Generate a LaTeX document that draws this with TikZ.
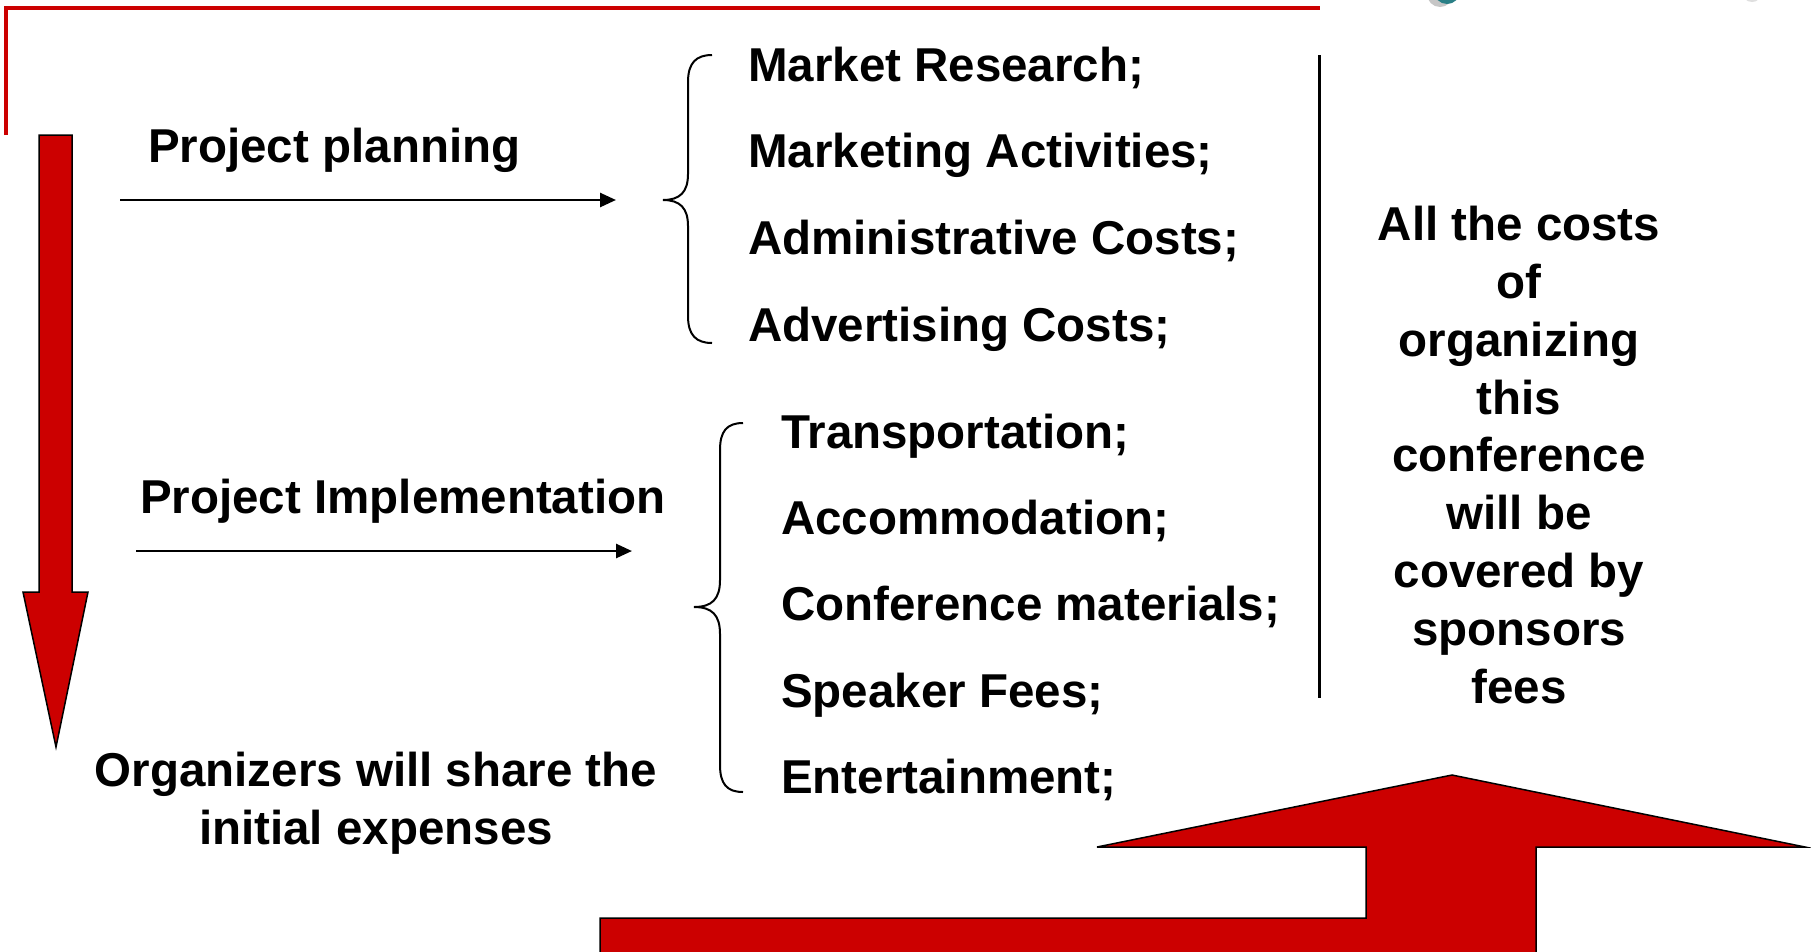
\documentclass[tikz,border=0pt]{standalone}
\usepackage{fontspec}
\setmainfont{Liberation Sans}
\usetikzlibrary{arrows.meta}
\definecolor{slidered}{HTML}{CC0000}
\definecolor{logoteal}{HTML}{2A7F86}

\begin{document}
\begin{tikzpicture}[x=1pt,y=-1pt,
  costtext/.style={font=\fontsize{47.5}{57.8}\selectfont\bfseries, inner sep=0pt},
  flow/.style={line width=2.6pt, -{Triangle[length=16pt,width=14pt]}},
  bigarrow/.style={fill=slidered, draw=black, line width=1.5pt, line join=miter}]
\clip (0,0) rectangle (1811,951);
\fill[white] (0,0) rectangle (1811,951);
% frame corner and logo remnant
\draw[slidered, line width=4pt] (6,135) -- (6,8) -- (1320,8);
\fill[gray!45] (1440,-6) circle (13);
\fill[logoteal] (1447,-9) circle (13);
\fill[gray!25] (1752,-8) circle (10);
% red arrows
\draw[bigarrow] (39,135) -- (72,135) -- (72,592) -- (88,592) -- (56,747)
  -- (23,592) -- (39,592) -- cycle;
\draw[bigarrow] (600,965) -- (600,918) -- (1366,918) -- (1366,847) -- (1097,847)
  -- (1452,775) -- (1805,847) -- (1536,847) -- (1536,965) -- cycle;
% left column
\node[costtext, anchor=base west] (plan) at (148,162) {Project planning};
\node[costtext, anchor=base west] (impl) at (140,513) {Project Implementation};
\node[costtext, anchor=north, align=center] (share) at (376,752)
  {Organizers will share the\\initial expenses};
\coordinate (plan-a) at (120,200);
\coordinate (plan-b) at (616,200);
\coordinate (impl-a) at (136,551);
\coordinate (impl-b) at (632,551);
\draw[flow] (plan-a) -- (plan-b);
\draw[flow] (impl-a) -- (impl-b);
% braces
\draw[line width=2pt] (712,55) .. controls (696,55) and (688,63) .. (688,82)
  -- (688,174) .. controls (688,192) and (680,200) .. (663,200)
  .. controls (680,200) and (688,208) .. (688,226)
  -- (688,316) .. controls (688,335) and (696,343) .. (712,343);
\draw[line width=2pt] (743,423) .. controls (727,423) and (720,431) .. (720,450)
  -- (720,580) .. controls (720,599) and (712,607) .. (694,607)
  .. controls (712,607) and (720,615) .. (720,634)
  -- (720,765) .. controls (720,784) and (727,792) .. (743,792);
% planning costs
\node[costtext, anchor=base west] (research) at (748,81) {Market Research;};
\node[costtext, anchor=base west] (marketing) at (748,167) {Marketing Activities;};
\node[costtext, anchor=base west] (admin) at (748,254) {Administrative Costs;};
\node[costtext, anchor=base west] (advert) at (748,341) {Advertising Costs;};
% implementation costs
\node[costtext, anchor=base west] (transport) at (781,448) {Transportation;};
\node[costtext, anchor=base west] (accom) at (781,534) {Accommodation;};
\node[costtext, anchor=base west] (materials) at (781,620) {Conference materials;};
\node[costtext, anchor=base west] (speaker) at (781,707) {Speaker Fees;};
\node[costtext, anchor=base west] (entertain) at (781,793) {Entertainment;};
% sponsors
\coordinate (sep-top) at (1319,55);
\coordinate (sep-bot) at (1319,698);
\draw[line width=3pt] (sep-top) -- (sep-bot);
\node[costtext, anchor=north, align=center] (sponsors) at (1519,206)
  {All the costs\\of\\organizing\\this\\conference\\will be\\covered by\\sponsors\\fees};
\end{tikzpicture}
\end{document}
